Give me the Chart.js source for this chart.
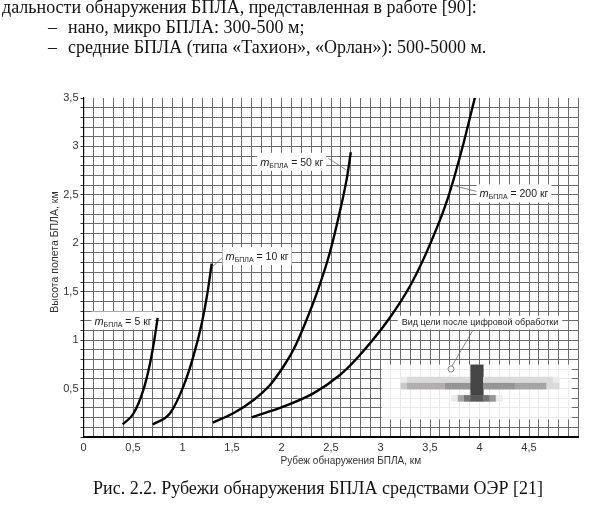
<!DOCTYPE html>
<html lang="ru">
<head>
<meta charset="UTF-8">
<title>Рубежи обнаружения БПЛА</title>
<script src="https://cdn.jsdelivr.net/npm/chart.js@4.4.1/dist/chart.umd.min.js"></script>
<style>
    html, body { margin: 0; padding: 0; background: #fff; }
    body {
        width: 602px; height: 505px; position: relative; overflow: hidden;
        font-family: "Liberation Serif", "Times New Roman", serif; color: #111;
    }
    #wrap { position: absolute; left: 0; top: 0; width: 602px; height: 505px; }
    .txt { position: absolute; font-size: 18px; line-height: 18px; white-space: nowrap; }
</style>
<script>
// tick labels
var xTickValues = [0, 0.5, 1, 1.5, 2, 2.5, 3, 3.5, 4, 4.5];
var xTickLabels = ['0', '0,5', '1', '1,5', '2', '2,5', '3', '3,5', '4', '4,5'];
var yTickValues = [0.5, 1, 1.5, 2, 2.5, 3, 3.5];
var yTickLabels = ['0,5', '1', '1,5', '2', '2,5', '3', '3,5'];

// series: detection range (km) vs flight height (km), per UAV mass
var masses = ['5', '10', '50', '200'];
var range5 = [0.396, 0.503, 0.604, 0.672, 0.715, 0.749];
var height5 = [0.13, 0.24, 0.485, 0.76, 1.0, 1.23];
var range10 = [0.699, 0.874, 1.008, 1.109, 1.194, 1.251, 1.295];
var height10 = [0.13, 0.245, 0.52, 0.83, 1.17, 1.48, 1.79];
var range50 = [1.305, 1.513, 1.715, 1.884, 2.018, 2.12, 2.237, 2.372, 2.49, 2.59, 2.66, 2.70];
var height50 = [0.148, 0.245, 0.38, 0.537, 0.725, 0.90, 1.17, 1.53, 1.91, 2.33, 2.67, 2.94];
var range200 = [1.699, 2.018, 2.321, 2.59, 2.76, 3.079, 3.315, 3.517, 3.685, 3.82, 3.955];
var height200 = [0.203, 0.313, 0.45, 0.64, 0.81, 1.21, 1.59, 2.03, 2.48, 2.96, 3.51];

var xTitle = 'Рубеж обнаружения БПЛА, км';
var yTitle = 'Высота полета БПЛА, км';
var targetText = 'Вид цели после цифровой обработки';
</script>
</head>
<body>
<div id="wrap"><canvas id="chart" width="602" height="505"></canvas></div>

<div class="txt" style="left:2px; top:-2px;">дальности обнаружения БПЛА, представленная в работе [90]:</div>
<div class="txt" style="left:48px; top:18px;">–</div>
<div class="txt" style="left:68px; top:18px;">нано, микро БПЛА: 300-500 м;</div>
<div class="txt" style="left:48px; top:37.5px;">–</div>
<div class="txt" style="left:68px; top:37.5px;">средние БПЛА (типа «Тахион», «Орлан»): 500-5000 м.</div>
<div class="txt" style="left:0; width:636px; text-align:center; top:479px;">Рис. 2.2. Рубежи обнаружения БПЛА средствами ОЭР [21]</div>

<script>
var SANS = '"Liberation Sans", Arial, Helvetica, sans-serif';

function pairs(xs, ys) {
    var out = [];
    for (var i = 0; i < xs.length; i++) out.push({x: xs[i], y: ys[i]});
    return out;
}

function pickLabel(values, labels, v) {
    for (var i = 0; i < values.length; i++) {
        if (Math.abs(values[i] - v) < 1e-6) return labels[i];
    }
    return '';
}

// where the callouts sit (data units)
var massNotes = [
    {cx: 0.399, cy: 1.202},
    {cx: 1.753, cy: 1.868, lead: [1.429, 1.878, 1.301, 1.757]},
    {cx: 2.103, cy: 2.841, lead: [2.473, 2.876, 2.659, 2.755]},
    {cx: 4.348, cy: 2.515, lead: [3.719, 2.601, 3.988, 2.531]}
];
var targetNote = {cx: 4.005, cy: 1.18, lead: [3.934, 1.104, 3.712, 0.702]};

// small pixelated picture of the target (grey levels per cell)
var insetBox = {x: 3.012, y: 0.748, cw: 0.064, ch: 0.063};
var insetRows = [
    '..............kk..............',
    '..............kk..............',
    '...abbbbbbbbbbkkbbbbbbbbbbba..',
    '...cddddddffffkkfffffeeeeebb..',
    '..............kk..............',
    '...........aeghhgfa...........',
    '..............................',
    '..............................',
    '..............................'
];
var insetShades = {a: '#ebebeb', b: '#dadada', c: '#c8c8c8', d: '#b3adad', e: '#a5a5a5',
                   f: '#959595', g: '#747474', h: '#585858', k: '#454545'};

function drawMass(ctx, cx, cy, mass) {
    var parts = [
        {t: 'm', f: 'italic 11px ' + SANS, dy: 0},
        {t: 'БПЛА', f: '7px ' + SANS, dy: 2},
        {t: ' = ' + mass + ' кг', f: '10.5px ' + SANS, dy: 0}
    ];
    var w = 0;
    parts.forEach(function (p) { ctx.font = p.f; p.w = ctx.measureText(p.t).width; w += p.w; });
    ctx.fillStyle = '#fff';
    ctx.fillRect(cx - w / 2 - 3, cy - 9, w + 6, 18);
    ctx.fillStyle = '#222';
    ctx.textBaseline = 'alphabetic';
    ctx.textAlign = 'left';
    var px = cx - w / 2;
    parts.forEach(function (p) {
        ctx.font = p.f;
        ctx.fillText(p.t, px, cy + 4 + p.dy);
        px += p.w;
    });
}

function leader(ctx, x, y, l) {
    ctx.beginPath();
    ctx.moveTo(x.getPixelForValue(l[0]), y.getPixelForValue(l[1]));
    ctx.lineTo(x.getPixelForValue(l[2]), y.getPixelForValue(l[3]));
    ctx.stroke();
}

var notesPlugin = {
    id: 'notes',
    afterDatasetsDraw: function (chart) {
        var ctx = chart.ctx, x = chart.scales.x, y = chart.scales.y;
        ctx.save();

        // inset picture
        var left = x.getPixelForValue(insetBox.x), top = y.getPixelForValue(insetBox.y);
        var cw = x.getPixelForValue(insetBox.x + insetBox.cw) - left;
        var ch = y.getPixelForValue(insetBox.y - insetBox.ch) - top;
        var cols = insetRows[0].length;
        ctx.fillStyle = 'rgba(255,255,255,0.86)';
        ctx.fillRect(left, top, cw * cols, ch * insetRows.length);
        insetRows.forEach(function (row, r) {
            for (var c = 0; c < row.length; c++) {
                var s = insetShades[row[c]];
                if (!s) continue;
                ctx.fillStyle = s;
                ctx.fillRect(left + c * cw, top + r * ch, cw + 0.5, ch + 0.5);
            }
        });

        // leader lines
        ctx.strokeStyle = '#6a6a6a';
        ctx.lineWidth = 0.8;
        massNotes.forEach(function (n) { if (n.lead) leader(ctx, x, y, n.lead); });
        var tl = targetNote.lead;
        var ccx = x.getPixelForValue(tl[2]), ccy = y.getPixelForValue(tl[3]);
        ctx.beginPath();
        ctx.moveTo(x.getPixelForValue(tl[0]), y.getPixelForValue(tl[1]));
        ctx.lineTo(ccx + 1, ccy - 3);
        ctx.stroke();
        ctx.beginPath();
        ctx.arc(ccx, ccy, 3, 0, Math.PI * 2);
        ctx.stroke();

        // mass callouts
        massNotes.forEach(function (n, i) {
            drawMass(ctx, x.getPixelForValue(n.cx), y.getPixelForValue(n.cy), masses[i]);
        });

        // target callout
        ctx.font = '9px ' + SANS;
        var tw = ctx.measureText(targetText).width;
        var tx = x.getPixelForValue(targetNote.cx), ty = y.getPixelForValue(targetNote.cy);
        ctx.fillStyle = '#fff';
        ctx.fillRect(tx - tw / 2 - 4, ty - 7, tw + 8, 14);
        ctx.fillStyle = '#222';
        ctx.textAlign = 'center';
        ctx.textBaseline = 'middle';
        ctx.fillText(targetText, tx, ty);

        ctx.restore();
    },
    afterDraw: function (chart) {
        var ctx = chart.ctx, x = chart.scales.x, y = chart.scales.y, a = chart.chartArea;
        ctx.save();
        ctx.fillStyle = '#333';
        ctx.textAlign = 'center';
        ctx.textBaseline = 'middle';
        ctx.font = '10px ' + SANS;
        ctx.fillText(xTitle, x.getPixelForValue(2.70), a.bottom + 24);
        ctx.translate(a.left - 28.5, y.getPixelForValue(1.91));
        ctx.rotate(-Math.PI / 2);
        ctx.font = '10.5px ' + SANS;
        ctx.fillText(yTitle, 0, 0);
        ctx.restore();
    }
};

function series(xs, ys) {
    return {
        data: pairs(xs, ys),
        borderColor: '#000',
        borderWidth: 2.4,
        pointRadius: 0,
        fill: false,
        cubicInterpolationMode: 'monotone'
    };
}

var GRID = '#6c6c6c';

new Chart(document.getElementById('chart'), {
    type: 'line',
    data: {
        datasets: [
            series(range5, height5),
            series(range10, height10),
            series(range50, height50),
            series(range200, height200)
        ]
    },
    options: {
        responsive: false,
        animation: false,
        events: [],
        layout: {padding: {left: 49, top: 98, right: 23.5, bottom: 48}},
        plugins: {legend: {display: false}, tooltip: {enabled: false}},
        scales: {
            x: {
                type: 'linear', min: 0, max: 5,
                afterFit: function (s) { s.height = 20; },
                grid: {color: GRID, lineWidth: 1, drawTicks: false},
                border: {color: '#000', width: 2},
                ticks: {
                    stepSize: 0.1, autoSkip: false, maxRotation: 0, padding: 4,
                    color: '#333', font: {family: SANS, size: 11},
                    callback: function (v) { return pickLabel(xTickValues, xTickLabels, v); }
                }
            },
            y: {
                type: 'linear', min: 0, max: 3.5,
                afterFit: function (s) { s.width = 34.5; },
                grid: {
                    lineWidth: 1, tickLength: 3, tickColor: '#333',
                    color: function (c) {
                        return (c.tick && Math.abs(c.tick.value - 3.5) < 1e-6) ? 'rgba(0,0,0,0)' : GRID;
                    }
                },
                border: {color: '#000', width: 1.2},
                ticks: {
                    stepSize: 0.1, autoSkip: false, padding: 2,
                    color: '#333', font: {family: SANS, size: 11},
                    callback: function (v) { return pickLabel(yTickValues, yTickLabels, v); }
                }
            }
        }
    },
    plugins: [notesPlugin]
});
</script>
</body>
</html>
